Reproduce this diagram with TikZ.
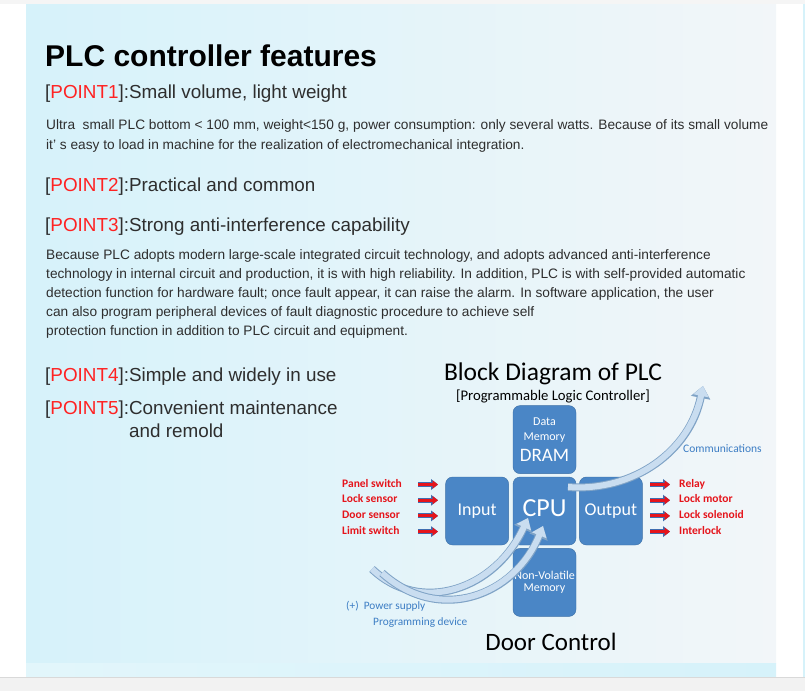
\documentclass[tikz,border=0pt]{standalone}
\usepackage{fontspec}
\setmainfont{Liberation Sans}
\newfontfamily\carlito{Carlito}
\usetikzlibrary{positioning,arrows.meta}

\definecolor{panelL}{HTML}{D6F2FA}
\definecolor{panelR}{HTML}{F2F6F9}
\definecolor{bodytext}{HTML}{2E2E2E}
\definecolor{pointred}{HTML}{FF2222}
\definecolor{boxfill}{HTML}{4A86C6}
\definecolor{boxedge}{HTML}{3A6EA5}
\definecolor{labred}{HTML}{E5141B}
\definecolor{labblue}{HTML}{3C7DC4}
\definecolor{flowfill}{HTML}{C9DDF0}
\definecolor{flowedge}{HTML}{7FA3C6}
\definecolor{sigblue}{HTML}{3F6DB0}

\newcommand\pointtag[1]{[\textcolor{pointred}{POINT#1}]:}

\begin{document}
\begin{tikzpicture}[x=1pt,y=-1pt,
    txt/.style={anchor=base west, inner sep=0pt, text=bodytext},
    para/.style={txt, font=\fontsize{13.7}{16}\selectfont},
    point/.style={txt, font=\fontsize{18.85}{22}\selectfont},
    blk/.style={draw=boxedge, fill=boxfill, rounded corners=7pt, text width=63pt,
      minimum height=68pt, inner sep=0pt, align=center, text=white, font=\carlito},
    sidelab/.style={anchor=base west, inner sep=0pt, text=labred,
      font=\carlito\bfseries\fontsize{11.5}{13}\selectfont},
    bluelab/.style={anchor=base west, inner sep=0pt, text=labblue,
      font=\carlito\fontsize{11.5}{13}\selectfont},
    sigarrow/.style={draw=labred, line width=3pt, -{Triangle[length=5.5pt,width=8pt]},
      preaction={draw=sigblue, line width=5pt, -{Triangle[length=7pt,width=10.5pt]}}},
    flowarrow/.style={draw=flowfill, line width=6pt, -{Triangle[length=10pt,width=15pt]},
      preaction={draw=flowedge, line width=8pt, -{Triangle[length=12pt,width=19pt]}}}]
  \useasboundingbox (0,0) rectangle (805,691);
  % page background
  \fill[black!4] (0,0) rectangle (805,4);
  \fill[left color=panelL, right color=panelR] (26,4) rectangle (776,663);
  \fill[left color=panelL!70, right color=panelL] (26,663) rectangle (776,677);
  \fill[panelL] (803,4) rectangle (805,677);
  \fill[black!5] (0,677) rectangle (805,691);
  \draw[black!15] (0,677) -- (805,677);

  % features text
  \node[txt, text=black, font=\bfseries\fontsize{30}{36}\selectfont] (title) at (45,66) {PLC controller features};
  \node[point] (p1) at (45,98) {\pointtag{1}Small volume, light weight};
  \node[para] (t1) at (46,129) {Ultra\ \ small PLC bottom < 100 mm, weight<150 g, power consumption: only several watts. Because of its small volume};
  \node[para] (t2) at (46,149) {it’ s easy to load in machine for the realization of electromechanical integration.};
  \node[point] (p2) at (45,191) {\pointtag{2}Practical and common};
  \node[point] (p3) at (45,231) {\pointtag{3}Strong anti-interference capability};
  \foreach \ln [count=\i] in {
      {Because PLC adopts modern large-scale integrated circuit technology, and adopts advanced anti-interference},
      {technology in internal circuit and production, it is with high reliability. In addition, PLC is with self-provided automatic},
      {detection function for hardware fault; once fault appear, it can raise the alarm. In software application, the user},
      {can also program peripheral devices of fault diagnostic procedure to achieve self},
      {protection function in addition to PLC circuit and equipment.}}
    \node[para] (b\i) at (46,240+19*\i) {\ln};
  \node[point] (p4) at (45,381) {\pointtag{4}Simple and widely in use};
  \node[point] (p5) at (45,414) {\pointtag{5}Convenient maintenance};
  \node[point] (p5b) at (129,437) {and remold};

  % block diagram
  \node[anchor=base, inner sep=0pt, font=\carlito\fontsize{25.5}{30}\selectfont] (bdtitle) at (553,380) {Block Diagram of PLC};
  \node[anchor=base, inner sep=0pt, font=\carlito\fontsize{14.7}{17}\selectfont] (bdsub) at (553,400) {[Programmable Logic Controller]};
  \node[blk, font=\carlito\fontsize{26}{28}\selectfont, text depth=5pt] (cpu) at (544.5,511) {CPU};
  \node[blk, font=\carlito\fontsize{18}{20}\selectfont, left=4pt of cpu] (inp) {Input};
  \node[blk, font=\carlito\fontsize{18}{20}\selectfont, right=3pt of cpu] (out) {Output};
  \node[blk, above=3pt of cpu] (dram) {\fontsize{12}{15}\selectfont Data\\Memory\\[5pt]{\fontsize{19}{19}\selectfont DRAM}};
  \node[blk, below=3pt of cpu] (nvm) {\fontsize{12}{14}\selectfont Non-Volatile\\Memory};

  \foreach \lab/\rlab [count=\i] in {Panel switch/Relay, Lock sensor/Lock motor,
      Door sensor/Lock solenoid, Limit switch/Interlock} {
    \pgfmathsetmacro\yb{487+15.7*(\i-1)}
    \node[sidelab] (il\i) at (342,\yb) {\lab};
    \node[sidelab] (ol\i) at (679,\yb) {\rlab};
    \coordinate (ia\i) at (418,\yb-2.5);
    \coordinate (ib\i) at (438,\yb-2.5);
    \coordinate (oa\i) at (650,\yb-2.5);
    \coordinate (ob\i) at (670,\yb-2.5);
    \draw[sigarrow] (ia\i) -- (ib\i);
    \draw[sigarrow] (oa\i) -- (ob\i);
  }

  % communication and power flows
  \coordinate (commtail) at (568,487);
  \coordinate (commhead) at (703,386);
  \coordinate (pwrtail) at (372,569);
  \coordinate (pwrhead) at (528,518);
  \coordinate (prgtail) at (382,573);
  \coordinate (prghead) at (543,526);
  \draw[flowarrow] (commtail) .. controls (635,492) and (690,450) .. (commhead);
  \draw[flowarrow] (pwrtail) .. controls (420,615) and (495,590) .. (pwrhead);
  \draw[flowarrow] (prgtail) .. controls (440,625) and (515,595) .. (prghead);

  \node[bluelab] (comm) at (683,452) {Communications};
  \node[bluelab, font=\carlito\fontsize{11.3}{13}\selectfont] (pwr) at (346,609) {(+)\ \ Power supply};
  \node[bluelab, font=\carlito\fontsize{11.3}{13}\selectfont] (prg) at (373,625) {Programming device};
  \node[anchor=base, inner sep=0pt, font=\carlito\fontsize{25}{30}\selectfont] (door) at (551,650) {Door Control};
\end{tikzpicture}
\end{document}
